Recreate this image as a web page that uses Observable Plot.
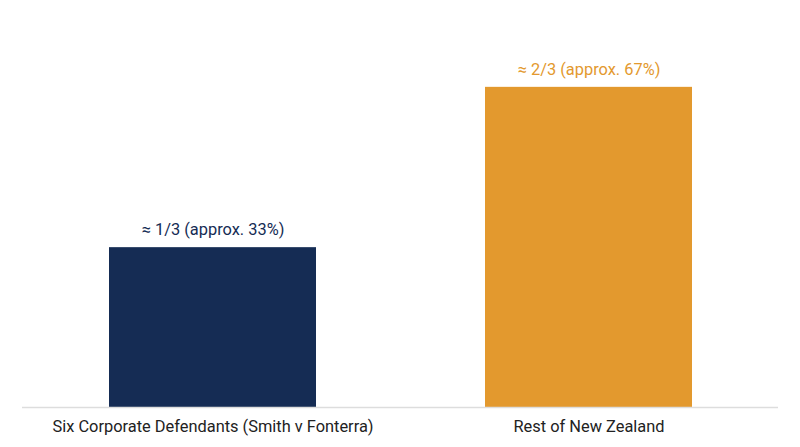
<!DOCTYPE html>
<html>
<head>
<meta charset="utf-8">
<script src="https://cdn.jsdelivr.net/npm/d3@7"></script>
<script src="https://cdn.jsdelivr.net/npm/@observablehq/plot@0.6"></script>
<style>
  html, body { margin: 0; padding: 0; background: #fff; }
  #chart { width: 800px; height: 447px; }
  svg { font-family: Roboto, "Noto Sans", sans-serif; }
</style>
</head>
<body>
<div id="chart"></div>
<script>
const categories = ["Six Corporate Defendants (Smith v Fonterra)", "Rest of New Zealand"];
const shares = [33.3, 66.7];
const labels = ["≈ 1/3 (approx. 33%)", "≈ 2/3 (approx. 67%)"];
const colors = ["#152c54", "#e3992e"];

const data = categories.map((c, i) => ({category: c, share: shares[i], label: labels[i], color: colors[i]}));

const chart = Plot.plot({
  width: 800,
  height: 447,
  marginTop: 23,
  marginBottom: 40,
  marginLeft: 22,
  marginRight: 22,
  style: {fontFamily: "Roboto, 'Noto Sans', sans-serif", background: "#fff"},
  x: {domain: categories, paddingInner: 0.45, paddingOuter: 0.23, label: null},
  y: {domain: [0, 80], axis: null},
  marks: [
    Plot.barY(data, {x: "category", y: "share", fill: d => d.color}),
    Plot.ruleY([0], {stroke: "#dddddd", strokeWidth: 1.5}),
    Plot.text(data, {x: "category", y: "share", text: "label", fill: d => d.color, dy: -18, fontSize: 16.4}),
    Plot.axisX({tickSize: 0, tickPadding: 13, fontSize: 16.4, color: "#222", label: null})
  ]
});
document.getElementById("chart").appendChild(chart);
</script>
</body>
</html>
